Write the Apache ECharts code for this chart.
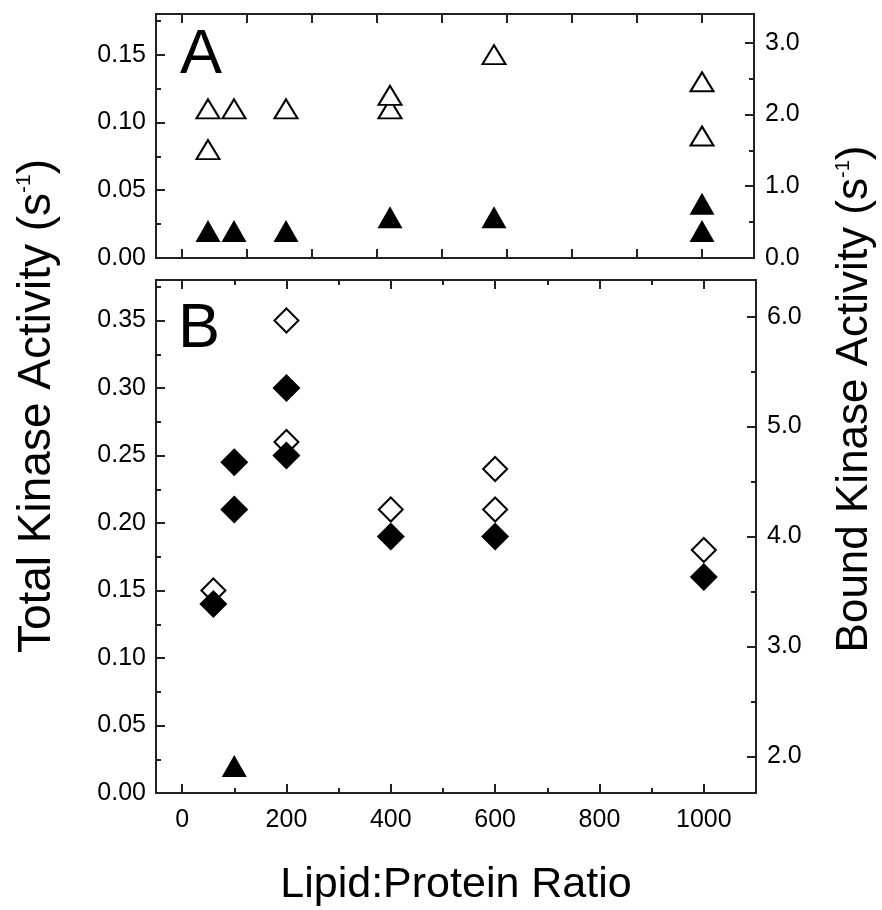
<!DOCTYPE html>
<html><head><meta charset="utf-8">
<script src="https://cdn.jsdelivr.net/npm/echarts@6/dist/echarts.min.js"></script>
<style>html,body{margin:0;padding:0;background:#fff}#c{width:882px;height:910px}</style>
</head><body><div id="c"></div>
<script>
// ---- Panel A data (Lipid:Protein ratio vs activity) ----
const ratioA_open   = [50, 50, 100, 200, 400, 400, 600, 1000, 1000];
const totalA_open   = [0.11, 0.08, 0.11, 0.11, 0.11, 0.12, 0.15, 0.13, 0.09];
const ratioA_filled = [50, 100, 200, 400, 600, 1000, 1000];
const totalA_filled = [0.02, 0.02, 0.02, 0.03, 0.03, 0.04, 0.02];

// ---- Panel B data ----
const ratioB_openDia   = [60, 200, 200, 400, 600, 600, 1000];
const totalB_openDia   = [0.15, 0.35, 0.26, 0.21, 0.24, 0.21, 0.18];
const ratioB_filledDia = [60, 100, 100, 200, 200, 400, 600, 1000];
const totalB_filledDia = [0.14, 0.245, 0.21, 0.30, 0.25, 0.19, 0.19, 0.16];
const ratioB_tri = [100];
const totalB_tri = [0.02];

// ---- Tick values ----
const xTicksA = [0, 125, 250, 375, 500, 625, 750, 875, 1000];
const xLabelsB = [0, 200, 400, 600, 800, 1000];
const xMinorB = [100, 300, 500, 700, 900];
const yLabelsA_left = [0, 0.05, 0.10, 0.15];
const yMinorA_left = [0.025, 0.075, 0.125, 0.175];
const yLabelsA_right = [0, 1, 2, 3];
const yMinorA_right = [0.5, 1.5, 2.5];
const yLabelsB_left = [0, 0.05, 0.10, 0.15, 0.20, 0.25, 0.30, 0.35];
const yMinorB_left = [0.025, 0.075, 0.125, 0.175, 0.225, 0.275, 0.325, 0.375];
const yLabelsB_right = [2, 3, 4, 5, 6];
const yMinorB_right = [2.5, 3.5, 4.5, 5.5];

const FONT = 'Liberation Sans, Arial, sans-serif';
const LINE = '#222';
const zip = (a, b) => a.map((v, i) => [v, b[i]]);

function axis(o) {
  return {
    type: 'value', gridIndex: o.grid, position: o.pos, min: o.min, max: o.max,
    axisLine: { show: !!o.line, onZero: false, lineStyle: { color: LINE, width: 2 } },
    axisTick: { show: true, inside: true, length: o.len || 9, customValues: o.ticks,
                lineStyle: { color: LINE, width: 2 } },
    axisLabel: o.labels ? { show: true, customValues: o.labels, margin: o.margin || 10,
                fontSize: 25, color: '#000', fontFamily: FONT,
                formatter: v => Number(v).toFixed(o.dec) } : { show: false },
    splitLine: { show: false }, minorTick: { show: false }, minorSplitLine: { show: false },
    z: 5
  };
}

const xAxis = [
  axis({grid: 0, pos: 'bottom', min: -50, max: 1100, line: true, ticks: xTicksA}),
  axis({grid: 0, pos: 'top', min: -50, max: 1100, line: true, ticks: xTicksA}),
  axis({grid: 1, pos: 'bottom', min: -50, max: 1100, line: true, ticks: xLabelsB, labels: xLabelsB, dec: 0, margin: 15}),
  axis({grid: 1, pos: 'bottom', min: -50, max: 1100, line: false, ticks: xMinorB, len: 5}),
  axis({grid: 1, pos: 'top', min: -50, max: 1100, line: true, ticks: xLabelsB}),
  axis({grid: 1, pos: 'top', min: -50, max: 1100, line: false, ticks: xMinorB, len: 5})
];
const yAxis = [
  axis({grid: 0, pos: 'left', min: 0, max: 0.18, line: true, ticks: yLabelsA_left, labels: yLabelsA_left, dec: 2}),
  axis({grid: 0, pos: 'left', min: 0, max: 0.18, line: false, ticks: yMinorA_left, len: 5}),
  axis({grid: 0, pos: 'right', min: 0, max: 3.4, line: true, ticks: yLabelsA_right, labels: yLabelsA_right, dec: 1, margin: 11}),
  axis({grid: 0, pos: 'right', min: 0, max: 3.4, line: false, ticks: yMinorA_right, len: 5}),
  axis({grid: 1, pos: 'left', min: 0, max: 0.38, line: true, ticks: yLabelsB_left, labels: yLabelsB_left, dec: 2}),
  axis({grid: 1, pos: 'left', min: 0, max: 0.38, line: false, ticks: yMinorB_left, len: 5}),
  axis({grid: 1, pos: 'right', min: 1.6667, max: 6.3333, line: true, ticks: yLabelsB_right, labels: yLabelsB_right, dec: 1, margin: 11}),
  axis({grid: 1, pos: 'right', min: 1.6667, max: 6.3333, line: false, ticks: yMinorB_right, len: 5})
];

const openStyle = { color: '#fff', borderColor: '#000', borderWidth: 2, opacity: 1 };
const fillStyle = { color: '#000', borderWidth: 0, opacity: 1 };
function sc(xi, yi, x, y, symbol, size, style) {
  return { type: 'scatter', xAxisIndex: xi, yAxisIndex: yi, data: zip(x, y), symbol: symbol,
           symbolSize: size, itemStyle: style, emphasis: { disabled: true }, silent: true, z: 3 };
}

const chart = echarts.init(document.getElementById('c'), null, { renderer: 'canvas' });
chart.setOption({
  animation: false,
  backgroundColor: '#fff',
  grid: [
    { left: 156, top: 14, right: 128, height: 244, outerBoundsMode: 'none', containLabel: false },
    { left: 156, top: 280, right: 126, height: 513, outerBoundsMode: 'none', containLabel: false }
  ],
  xAxis: xAxis,
  yAxis: yAxis,
  series: [
    sc(0, 0, ratioA_open, totalA_open, 'triangle', [23, 19], openStyle),
    sc(0, 0, ratioA_filled, totalA_filled, 'triangle', [25, 22], fillStyle),
    sc(2, 4, ratioB_openDia, totalB_openDia, 'diamond', [24, 24], openStyle),
    sc(2, 4, ratioB_filledDia, totalB_filledDia, 'diamond', [28, 28], fillStyle),
    sc(2, 4, ratioB_tri, totalB_tri, 'triangle', [25, 22], fillStyle)
  ],
  graphic: [
    { type: 'text', x: 180, y: 56, style: { text: 'A', fontSize: 63, fontFamily: FONT, fill: '#000', align: 'left', verticalAlign: 'middle' } },
    { type: 'text', x: 178, y: 330, style: { text: 'B', fontSize: 63, fontFamily: FONT, fill: '#000', align: 'left', verticalAlign: 'middle' } },
    { type: 'text', x: 37, y: 406, rotation: Math.PI / 2,
      style: { text: '{a|Total Kinase Activity (s}{b|-1}{a|)}', align: 'center', verticalAlign: 'middle',
        rich: { a: { fontSize: 46, fontFamily: FONT, fill: '#000' },
                b: { fontSize: 21, fontFamily: FONT, fill: '#000', verticalAlign: 'top' } } } },
    { type: 'text', x: 855, y: 399, rotation: Math.PI / 2,
      style: { text: '{a|Bound Kinase Activity (s}{b|-1}{a|)}', align: 'center', verticalAlign: 'middle',
        rich: { a: { fontSize: 44, fontFamily: FONT, fill: '#000' },
                b: { fontSize: 20, fontFamily: FONT, fill: '#000', verticalAlign: 'top' } } } },
    { type: 'text', x: 456, y: 885, style: { text: 'Lipid:Protein Ratio', fontSize: 43, fontFamily: FONT, fill: '#000', align: 'center', verticalAlign: 'middle' } }
  ]
});
</script></body></html>
